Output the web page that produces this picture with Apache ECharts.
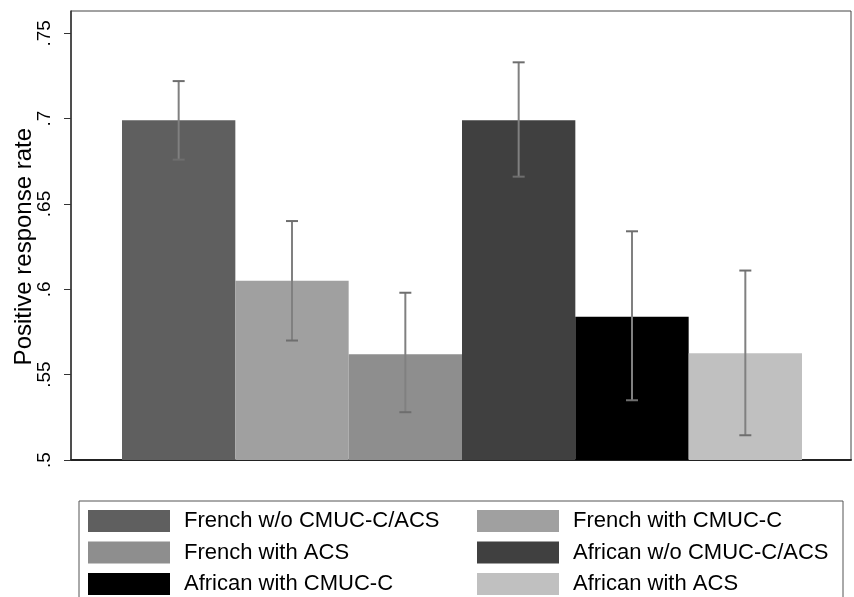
<!DOCTYPE html>
<html>
<head>
<meta charset="utf-8">
<script src="https://cdn.jsdelivr.net/npm/echarts@6/dist/echarts.min.js"></script>
<style>html,body{margin:0;padding:0;background:#fff}#c{width:854px;height:597px}</style>
</head>
<body>
<div id="c"></div>
<script>
var categories = ["French w/o CMUC-C/ACS", "French with CMUC-C", "French with ACS", "African w/o CMUC-C/ACS", "African with CMUC-C", "African with ACS"];
var rates = [0.699, 0.605, 0.562, 0.699, 0.584, 0.5625];
var ciLow = [0.676, 0.570, 0.528, 0.666, 0.535, 0.5145];
var ciHigh = [0.722, 0.640, 0.598, 0.733, 0.634, 0.611];
var colors = ["#5f5f5f", "#a0a0a0", "#8e8e8e", "#404040", "#000000", "#c0c0c0"];
var yTicks = {min: 0.5, max: 0.75, interval: 0.05};
var yTitle = "Positive response rate";

var FONT = "Liberation Sans, Arial, sans-serif";
var chart = echarts.init(document.getElementById('c'), null, {renderer: 'canvas'});

var series = categories.map(function (name, i) {
  return {
    name: name,
    type: 'bar',
    xAxisIndex: 1, yAxisIndex: 1,
    barGap: '-100%',
    barCategoryGap: 0,
    itemStyle: {color: colors[i]},
    data: categories.map(function (c, j) { return j === i ? rates[i] : '-'; }),
    z: 2
  };
});
series.push({
  type: 'custom',
  name: 'ci',
  xAxisIndex: 1, yAxisIndex: 1,
  z: 5,
  data: categories.map(function (c, i) { return [i, ciLow[i], ciHigh[i]]; }),
  renderItem: function (params, api) {
    var idx = api.value(0);
    var lo = api.coord([idx, api.value(1)]);
    var hi = api.coord([idx, api.value(2)]);
    var hw = 6;
    return {
      type: 'group',
      children: [
        {type: 'line', shape: {x1: lo[0], y1: lo[1], x2: hi[0], y2: hi[1]}, style: {stroke: '#808080', lineWidth: 2}},
        {type: 'line', shape: {x1: hi[0] - hw, y1: hi[1], x2: hi[0] + hw, y2: hi[1]}, style: {stroke: '#6e6e6e', lineWidth: 2}},
        {type: 'line', shape: {x1: lo[0] - hw, y1: lo[1], x2: lo[0] + hw, y2: lo[1]}, style: {stroke: '#6e6e6e', lineWidth: 2}}
      ]
    };
  }
});

function legendFor(items, left) {
  return {
    data: items,
    orient: 'vertical',
    left: left, top: 510,
    padding: 0,
    height: 87,
    itemWidth: 82, itemHeight: 22, itemGap: 9.5,
    icon: 'rect',
    selectedMode: false,
    textStyle: {fontFamily: FONT, fontSize: 22, color: '#000', lineHeight: 22, padding: [0, 0, 0, 9]}
  };
}

chart.setOption({
  animation: false,
  backgroundColor: '#fff',
  grid: [
    {left: 71, right: 3, top: 11, bottom: 137, show: true, borderColor: '#444', borderWidth: 1, backgroundColor: 'transparent', outerBoundsMode: 'none', containLabel: false},
    {left: 122, right: 52, top: 33.3, bottom: 137, outerBoundsMode: 'none', containLabel: false}
  ],
  xAxis: [
    {gridIndex: 0, type: 'value', min: 0, max: 1, axisLabel: {show: false}, axisTick: {show: false}, splitLine: {show: false},
     axisLine: {show: true, lineStyle: {color: '#222', width: 2}}},
    {gridIndex: 1, type: 'category', data: categories, show: false}
  ],
  yAxis: [
    {gridIndex: 0, type: 'value', min: 0, max: 1, axisLabel: {show: false}, axisTick: {show: false}, splitLine: {show: false},
     axisLine: {show: true, lineStyle: {color: '#333', width: 1.5}}},
    {gridIndex: 1, type: 'value', min: yTicks.min, max: yTicks.max, interval: yTicks.interval,
     offset: 51,
     axisLine: {show: false},
     splitLine: {show: false},
     axisTick: {show: true, length: 7, lineStyle: {color: '#333', width: 1}},
     axisLabel: {
       rotate: 90, margin: 17, fontFamily: FONT, fontSize: 19, color: '#000',
       formatter: function (v) { return String(+v.toFixed(2)).replace(/^0\./, '.'); }
     },
     name: yTitle, nameLocation: 'middle', nameGap: 35, nameMoveOverlap: false,
     nameTextStyle: {fontFamily: FONT, fontSize: 24, color: '#000'}
    }
  ],
  legend: [
    legendFor([categories[0], categories[2], categories[4]], 88),
    legendFor([categories[1], categories[3], categories[5]], 477)
  ],
  graphic: [
    {type: 'rect', shape: {x: 79, y: 501, width: 764, height: 120}, style: {fill: 'none', stroke: '#555', lineWidth: 1}, silent: true, z: -1}
  ],
  series: series
});
</script>
</body>
</html>
